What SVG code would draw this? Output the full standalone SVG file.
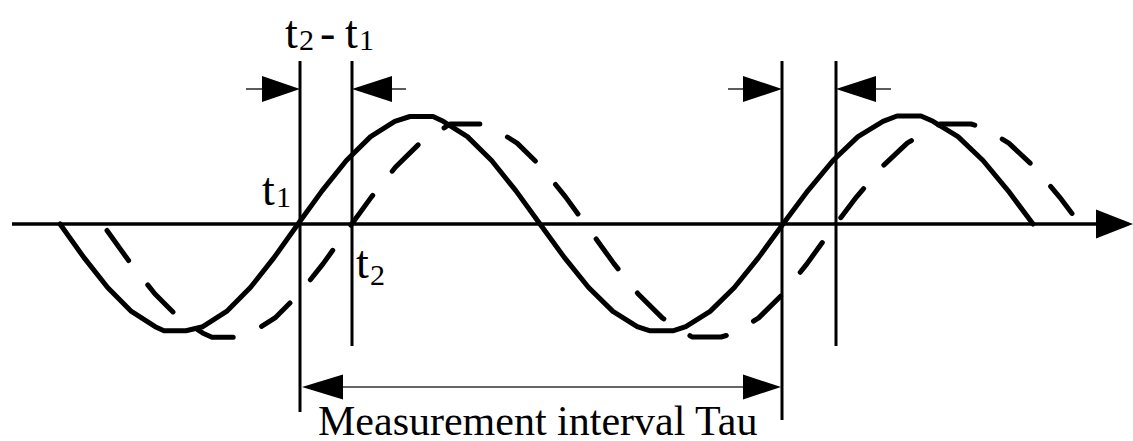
<svg xmlns="http://www.w3.org/2000/svg" width="1133" height="441" viewBox="0 0 1133 441">
<style>
.wave{fill:none;stroke:#000;stroke-width:5;stroke-linejoin:round;stroke-linecap:round}
.dash{stroke-dasharray:37 31}
.axis{stroke:#000;stroke-width:3.4;fill:none}
.vline{stroke:#000;stroke-width:3;fill:none}
.thin{stroke:#333;stroke-width:1.6;fill:none}
.head{fill:#000;stroke:none}
.lbl{font-family:"Liberation Serif","Times New Roman",serif;fill:#000}
</style>
<rect width="1133" height="441" fill="#fff"/>
<g id="axis">
<line class="axis" x1="12" y1="224" x2="1098" y2="224"/>
<polygon class="head" points="1096,209.5 1133,224 1096,238.5"/>
</g>
<g id="solid-wave">
<polyline class="wave" points="60,224 83.8,257.4 107.6,287.5 131.4,311.4 155.2,326.7 164,330.7 186,330.7 202.8,326.7 226.6,311.4 250.4,287.5 274.2,257.4 298,224 322.2,190.6 346.4,160.5 370.6,136.6 394.8,121.3 410,116.5 433,116.5 443.2,121.3 467.4,136.6 491.6,160.5 515.8,190.6 540,224 564.3,257.4 588.6,287.5 612.9,311.4 637.2,326.7 649.4,330.7 673.6,330.7 685.8,326.7 710.1,311.4 734.4,287.5 758.7,257.4 783,224 808,190.6 833,160.5 858,136.6 883,121.3 897,116 921,116 933,121.3 958,136.6 983,160.5 1008,190.6 1033,224"/>
</g>
<g id="dashed-wave">
<polyline class="wave dash" points="107,230.5 131,263.9 155,294 179,317.9 203,333.2 212,337.2 239,337.2 251,333.2 275,317.9 299,294 323,263.9 347,230.5 371.3,197.1 395.6,167 419.9,143.1 444.2,127.8 450,124 484,124 492.8,127.8 517.1,143.1 541.4,167 565.7,197.1 590,230.5 614.1,263.9 638.2,294 662.3,317.9 686.4,333.2 692,337 721,337 734.6,333.2 758.7,317.9 782.8,294 806.9,263.9 831,230.5 856.4,197.1 881.8,167 907.2,143.1 932.6,127.8 940,124 971,124 983.4,127.8 1008.8,143.1 1034.2,167 1059.6,197.1 1072,213.4"/>
</g>
<g id="connectors">
<line class="vline" x1="300" y1="61" x2="300" y2="412"/>
<line class="vline" x1="352" y1="61" x2="352" y2="346"/>
<line class="vline" x1="782" y1="61" x2="782" y2="420"/>
<line class="vline" x1="836" y1="61" x2="836" y2="346"/>
<line class="thin" x1="246" y1="89" x2="264" y2="89"/>
<polygon class="head" points="262,76 300,89 262,102"/>
<line class="thin" x1="390" y1="89" x2="406" y2="89"/>
<polygon class="head" points="392,76 352,89 392,102"/>
<line class="thin" x1="728" y1="89" x2="745" y2="89"/>
<polygon class="head" points="743,76 782,89 743,102"/>
<line class="thin" x1="874" y1="89" x2="891" y2="89"/>
<polygon class="head" points="876,76 836,89 876,102"/>
<line class="thin" x1="340" y1="387" x2="746" y2="387"/>
<polygon class="head" points="343,374.5 302,387 343,399.5"/>
<polygon class="head" points="743,374.5 781,387 743,399.5"/>
</g>
<g id="label-dt">
<text class="lbl" font-size="46" y="48"><tspan x="285">t</tspan><tspan x="299" y="50" font-size="30">2</tspan><tspan x="320" y="48">-</tspan><tspan x="345" y="48">t</tspan><tspan x="359" y="50" font-size="30">1</tspan></text>
</g>
<g id="label-t1">
<text class="lbl" font-size="46" y="205"><tspan x="262">t</tspan><tspan x="276" y="207" font-size="30">1</tspan></text>
</g>
<g id="label-t2">
<text class="lbl" font-size="46" y="278"><tspan x="356">t</tspan><tspan x="370" y="285" font-size="30">2</tspan></text>
</g>
<g id="label-tau">
<text class="lbl" font-size="42" x="318" y="435">Measurement interval Tau</text>
</g>
</svg>
